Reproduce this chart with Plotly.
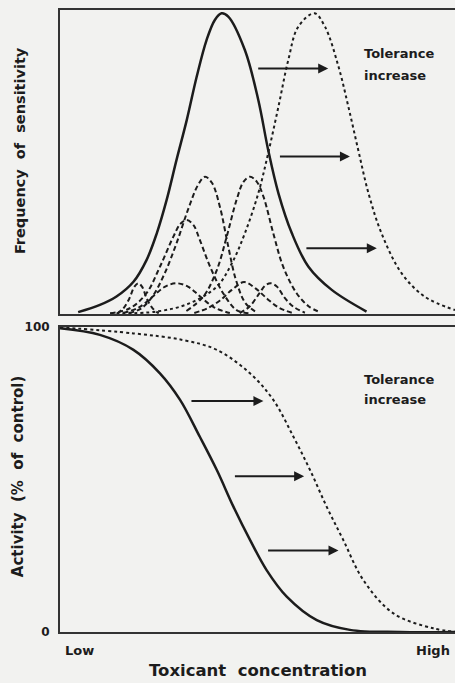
import plotly.graph_objects as go

# ---------------- data ----------------
# Top panel: frequency of sensitivity vs toxicant concentration (0-100 = Low..High)
sens_solid_x = [4.6, 10.1, 14.3, 18.6, 21.9, 24.5, 27.0, 29.5, 32.1, 34.6, 37.1, 39.2, 40.9,
                42.6, 46.8, 50.2, 52.7, 55.3, 58.7, 62.9, 68.8, 77.6]
sens_solid_y = [0.6, 3.0, 5.8, 10.7, 17.9, 26.8, 37.9, 51.2, 64.5, 78.8, 91.0, 97.7, 99.9,
                98.8, 87.7, 71.1, 54.5, 40.1, 26.8, 15.7, 8.0, 0.8]

sens_dotted_x = [12.7, 24.5, 32.9, 39.7, 43.5, 46.8, 50.2, 52.7, 55.3, 57.8, 60.3, 64.4,
                 67.1, 70.5, 73.0, 75.5, 78.1, 81.4, 86.5, 92.4, 100.0]
sens_dotted_y = [0.2, 0.8, 3.6, 9.1, 16.8, 26.8, 40.1, 53.4, 68.9, 84.4, 95.4, 99.9,
                 95.4, 82.2, 68.9, 54.5, 40.1, 26.8, 13.5, 5.7, 1.3]

# individual species (dashed)
spA_x = [17.5, 20.5, 23.5, 26.5, 29.5, 32.5, 35.0, 36.7, 38.5, 40.5, 42.5, 44.5, 47.0, 50.0]
spA_y = [0.3, 1.8, 6.0, 13.5, 23.5, 35.0, 43.0, 45.6, 43.5, 35.5, 23.0, 11.5, 3.5, 0.4]
spB_x = [32.0, 36.3, 39.7, 42.2, 44.7, 46.5, 48.1, 49.8, 51.5, 54.0, 56.5, 59.9, 63.0, 66.0]
spB_y = [1.0, 5.8, 14.6, 25.7, 37.9, 44.0, 45.6, 44.0, 39.0, 26.8, 15.7, 6.9, 2.5, 0.5]
spC_x = [12.7, 17.7, 21.9, 25.3, 28.7, 30.5, 32.1, 33.8, 35.4, 38.0, 41.3, 44.7, 48.0]
spC_y = [0.2, 1.9, 6.9, 15.7, 25.7, 30.0, 31.2, 29.5, 24.6, 15.7, 6.9, 1.3, 0.2]
spD_x = [14.5, 16.0, 17.5, 18.8, 19.8, 20.8, 22.0, 23.5, 25.0]
spD_y = [0.2, 1.8, 5.0, 9.0, 10.2, 9.0, 5.0, 1.8, 0.2]
spE_x = [16.0, 20.0, 23.5, 26.5, 29.5, 32.5, 35.5, 39.0, 43.0]
spE_y = [0.3, 2.2, 5.8, 9.0, 10.2, 9.0, 5.8, 2.2, 0.3]
spF_x = [34.0, 37.5, 40.5, 43.5, 46.6, 49.5, 52.5, 55.5, 59.0]
spF_y = [0.3, 2.0, 4.5, 8.0, 10.6, 8.5, 5.0, 2.0, 0.3]
spG_x = [45.5, 48.0, 50.5, 52.0, 53.4, 55.0, 56.8, 59.0, 62.0]
spG_y = [0.3, 2.5, 6.9, 9.5, 10.2, 9.0, 5.5, 2.5, 0.4]
species = [(spA_x, spA_y), (spB_x, spB_y), (spC_x, spC_y), (spD_x, spD_y),
           (spE_x, spE_y), (spF_x, spF_y), (spG_x, spG_y)]

# Bottom panel: activity (% of control)
act_solid_x = [0, 10.1, 18.6, 25.3, 30.4, 35.4, 39.7, 43.9, 48.1, 52.3, 57.4, 65.0, 73.4, 86.1, 100]
act_solid_y = [99.6, 97.4, 92.5, 84.8, 76.1, 64.0, 53.1, 41.1, 30.2, 20.3, 11.6, 3.9, 0.7, 0, 0]
act_dotted_x = [0, 18.6, 31.2, 39.7, 48.1, 54.0, 59.1, 63.3, 67.5, 71.7, 76.8, 84.4, 94.5, 100]
act_dotted_y = [99.9, 97.9, 95.7, 92.5, 84.8, 76.1, 64.0, 53.1, 41.1, 30.2, 17.0, 6.1, 1.2, 0.1]

act_tick_vals = [0, 100]
act_tick_text = ["0", "100"]
x_labels = ["Low", "High"]

# ---------------- figure ----------------
INK = "#1c1c1c"
BG = "#f2f2f0"
FONT = "DejaVu Sans"

fig = go.Figure()

def line(x, y, dash, width, xa, ya):
    fig.add_trace(go.Scatter(x=x, y=y, mode="lines", xaxis=xa, yaxis=ya,
                             line=dict(color=INK, width=width, dash=dash,
                                       shape="spline", smoothing=1.0),
                             hoverinfo="skip", showlegend=False))

for sx, sy in species:
    line(sx, sy, "5px,3px", 2, "x", "y")
line(sens_solid_x, sens_solid_y, "solid", 2.5, "x", "y")
line(sens_dotted_x, sens_dotted_y, "dot", 2, "x", "y")

line(act_solid_x, act_solid_y, "solid", 2.5, "x2", "y2")
line(act_dotted_x, act_dotted_y, "dot", 2, "x2", "y2")

axis_common = dict(showgrid=False, zeroline=False, showline=True, linecolor="#333",
                   linewidth=2, ticks="")
fig.update_layout(
    width=455, height=683,
    margin=dict(l=60, r=0, t=10, b=51),
    paper_bgcolor=BG, plot_bgcolor=BG,
    font=dict(family=FONT, color=INK),
    hovermode=False,
    xaxis=dict(domain=[0, 1], range=[0, 100], anchor="y", mirror=True,
               showticklabels=False, **axis_common),
    yaxis=dict(domain=[0.5113, 1.0], range=[0, 101], anchor="x", mirror=False,
               showticklabels=False, **axis_common),
    xaxis2=dict(domain=[0, 1], range=[0, 100], anchor="y2", mirror=True,
                showticklabels=False, **axis_common),
    yaxis2=dict(domain=[0, 0.4904], range=[0, 100], anchor="x2", mirror=False,
                tickvals=act_tick_vals, ticktext=act_tick_text,
                tickfont=dict(size=12, family=FONT, weight="bold", color=INK),
                ticklabelstandoff=6, **axis_common),
)

ann = []
bold = dict(family=FONT, weight="bold", color=INK)

# arrows (top panel)
for x0, x1, yy in [(49.8, 67.9, 81.6), (55.3, 73.4, 52.3), (62.0, 80.2, 21.8)]:
    ann.append(dict(x=x1, y=yy, ax=x0, ay=yy, xref="x", yref="y", axref="x", ayref="y",
                    showarrow=True, arrowhead=2, arrowsize=1, arrowwidth=2,
                    arrowcolor=INK, text=""))
# arrows (bottom panel)
for x0, x1, yy in [(32.9, 51.5, 75.7), (43.9, 61.8, 51.1), (52.3, 70.5, 26.7)]:
    ann.append(dict(x=x1, y=yy, ax=x0, ay=yy, xref="x2", yref="y2", axref="x2", ayref="y2",
                    showarrow=True, arrowhead=2, arrowsize=1, arrowwidth=2,
                    arrowcolor=INK, text=""))

# "Tolerance increase" labels
for xr, yr, y1, y2 in [("x", "y", 86.7, 79.4), ("x2", "y2", 82.9, 76.1)]:
    ann.append(dict(x=76.5, y=y1, xref=xr, yref=yr, text="Tolerance", showarrow=False,
                    xanchor="left", yanchor="middle", font=dict(size=13, **bold)))
    ann.append(dict(x=76.5, y=y2, xref=xr, yref=yr, text="increase", showarrow=False,
                    xanchor="left", yanchor="middle", font=dict(size=13, **bold)))

# axis texts
ann.append(dict(x=-0.101, y=(632 - 151) / 622, xref="paper", yref="paper",
                text="Frequency  of  sensitivity", textangle=-90, showarrow=False,
                xanchor="center", yanchor="middle", font=dict(size=14.5, **bold)))
ann.append(dict(x=-0.106, y=(632 - 477) / 622, xref="paper", yref="paper",
                text="Activity  (%  of  control)", textangle=-90, showarrow=False,
                xanchor="center", yanchor="middle", font=dict(size=15, **bold)))
ann.append(dict(x=0, y=(632 - 650) / 622, xref="paper", yref="paper", text=x_labels[0],
                showarrow=False, xanchor="left", yanchor="middle", xshift=3,
                font=dict(size=13, **bold)))
ann.append(dict(x=1, y=(632 - 650) / 622, xref="paper", yref="paper", text=x_labels[1],
                showarrow=False, xanchor="right", yanchor="middle", xshift=-3,
                font=dict(size=13, **bold)))
ann.append(dict(x=(258 - 60) / 395, y=(632 - 670) / 622, xref="paper", yref="paper",
                text="Toxicant  concentration", showarrow=False,
                xanchor="center", yanchor="middle", font=dict(size=16.5, **bold)))

fig.update_layout(annotations=ann)
fig.write_html("out.html",
               config={"displayModeBar": False, "staticPlot": True},
               post_script="document.body.style.margin='0';"
                           "document.body.style.overflow='hidden';")
